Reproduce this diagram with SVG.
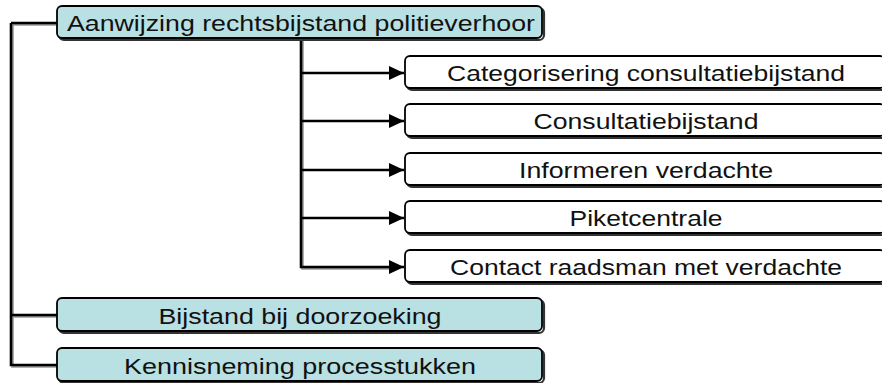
<svg xmlns="http://www.w3.org/2000/svg" width="882" height="383" viewBox="0 0 882 383">
<defs>
<style>
.box{stroke:#000;stroke-width:1.8}
.main{fill:#b9e0e3}
.sub{fill:#fff}
.sh{fill:none;stroke:#333;stroke-width:2.2}
.t{font-family:"Liberation Sans",Arial,sans-serif;font-size:22px;fill:#111;text-anchor:middle}
.c{fill:none;stroke:#000;stroke-width:2.6}
.cs{fill:none;stroke:#999;stroke-width:2.6}
</style>
<marker id="ah" markerWidth="16" markerHeight="16" refX="15" refY="8" orient="auto" markerUnits="userSpaceOnUse">
<path d="M0,1 L15,8 L0,15 Z" fill="#000"/>
</marker>
</defs>
<rect width="882" height="383" fill="#fff"/>
<g id="connectors">
<path class="cs" d="M12.5,24.5 V366.5 H58 M12.5,316.5 H58 M12.5,24.5 H58"/>
<path class="c" d="M11,23 V365 H57 M11,315 H57 M11,23 H57"/>
<path class="cs" d="M302.5,40 V268.5 H392"/>
<path class="c" d="M301,39 V267 H404" marker-end="url(#ah)"/>
<path class="c" d="M301,73 H404" marker-end="url(#ah)"/>
<path class="c" d="M301,121 H404" marker-end="url(#ah)"/>
<path class="c" d="M301,170 H404" marker-end="url(#ah)"/>
<path class="c" d="M301,218 H404" marker-end="url(#ah)"/>
</g>
<g id="n-aanwijzing">
<rect class="sh" x="59" y="8" width="485" height="32" rx="5"/>
<rect class="box main" x="57" y="6" width="485" height="32" rx="5"/>
<text class="t" x="301" y="31" textLength="468" lengthAdjust="spacingAndGlyphs">Aanwijzing rechtsbijstand politieverhoor</text>
</g>
<g id="n-categorisering">
<rect class="sh" x="407" y="58" width="480" height="32" rx="5"/>
<rect class="box sub" x="405" y="56" width="480" height="32" rx="5"/>
<text class="t" x="646" y="81" textLength="398" lengthAdjust="spacingAndGlyphs">Categorisering consultatiebijstand</text>
</g>
<g id="n-consultatiebijstand">
<rect class="sh" x="407" y="106" width="480" height="32" rx="5"/>
<rect class="box sub" x="405" y="104" width="480" height="32" rx="5"/>
<text class="t" x="646" y="129" textLength="225" lengthAdjust="spacingAndGlyphs">Consultatiebijstand</text>
</g>
<g id="n-informeren">
<rect class="sh" x="407" y="155" width="480" height="32" rx="5"/>
<rect class="box sub" x="405" y="153" width="480" height="32" rx="5"/>
<text class="t" x="646" y="178" textLength="254" lengthAdjust="spacingAndGlyphs">Informeren verdachte</text>
</g>
<g id="n-piketcentrale">
<rect class="sh" x="407" y="203" width="480" height="32" rx="5"/>
<rect class="box sub" x="405" y="201" width="480" height="32" rx="5"/>
<text class="t" x="646" y="226" textLength="153" lengthAdjust="spacingAndGlyphs">Piketcentrale</text>
</g>
<g id="n-contact">
<rect class="sh" x="407" y="252" width="480" height="32" rx="5"/>
<rect class="box sub" x="405" y="250" width="480" height="32" rx="5"/>
<text class="t" x="646" y="275" textLength="392" lengthAdjust="spacingAndGlyphs">Contact raadsman met verdachte</text>
</g>
<g id="n-bijstand">
<rect class="sh" x="59" y="300" width="485" height="33" rx="5"/>
<rect class="box main" x="57" y="298" width="485" height="33" rx="5"/>
<text class="t" x="300" y="324" textLength="283" lengthAdjust="spacingAndGlyphs">Bijstand bij doorzoeking</text>
</g>
<g id="n-kennisneming">
<rect class="sh" x="59" y="350" width="485" height="33" rx="5"/>
<rect class="box main" x="57" y="348" width="485" height="33" rx="5"/>
<text class="t" x="300" y="374" textLength="352" lengthAdjust="spacingAndGlyphs">Kennisneming processtukken</text>
</g>
</svg>
